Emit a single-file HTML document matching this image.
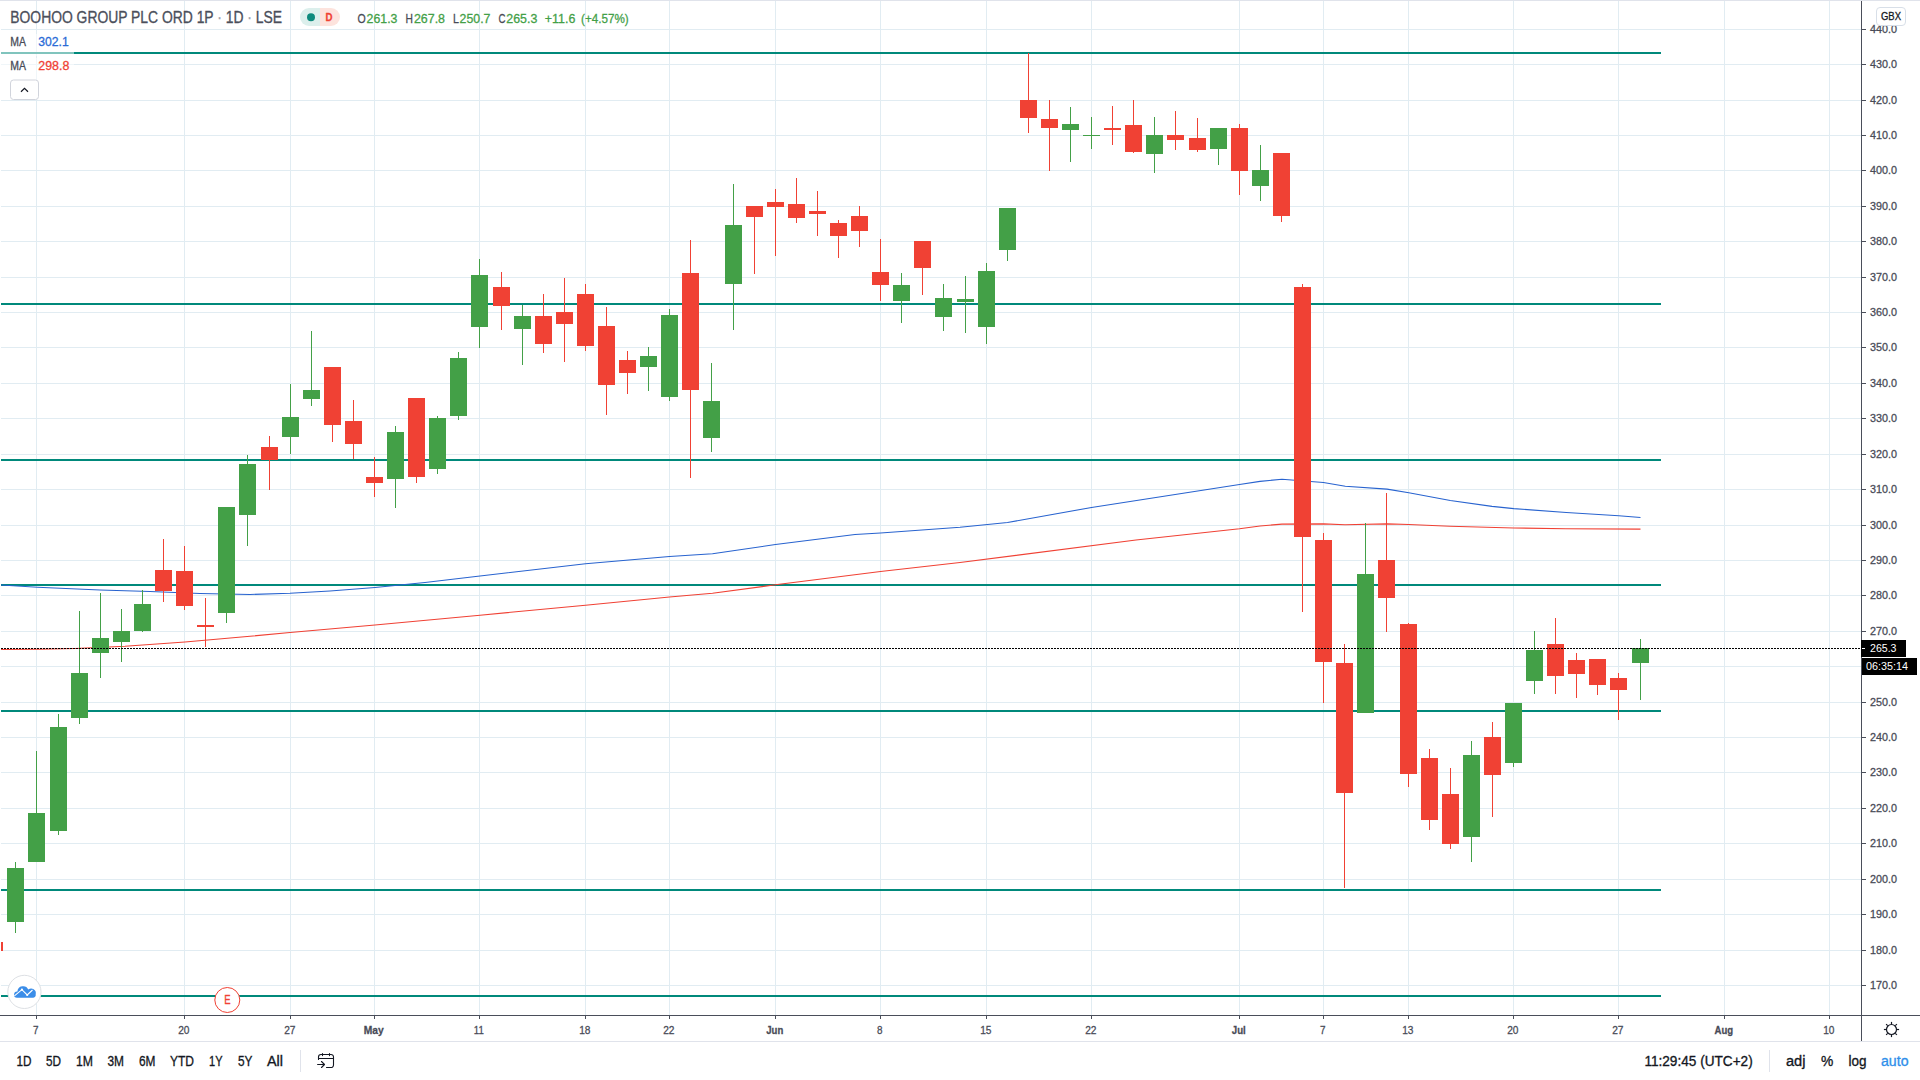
<!DOCTYPE html>
<html lang="en"><head><meta charset="utf-8"><title>BOOHOO GROUP PLC ORD 1P chart</title>
<style>html,body{margin:0;padding:0;background:#fff;width:1920px;height:1080px;overflow:hidden}svg{display:block}</style>
</head><body>
<svg width="1920" height="1080" viewBox="0 0 1920 1080" font-family='"Liberation Sans", sans-serif' shape-rendering="crispEdges">
<style>text,tspan{fill:currentColor;stroke:currentColor;stroke-width:.28px}.b text,text.b{stroke-width:.32px}.w{stroke-width:0}</style>
<rect width="1920" height="1080" fill="#fff"/>
<rect x="0" y="0" width="1920" height="1" fill="#e0e3eb"/>
<g fill="#e1ecf2">
<rect x="1" y="985" width="1860" height="1"/>
<rect x="1" y="950" width="1860" height="1"/>
<rect x="1" y="914" width="1860" height="1"/>
<rect x="1" y="879" width="1860" height="1"/>
<rect x="1" y="843" width="1860" height="1"/>
<rect x="1" y="808" width="1860" height="1"/>
<rect x="1" y="772" width="1860" height="1"/>
<rect x="1" y="737" width="1860" height="1"/>
<rect x="1" y="702" width="1860" height="1"/>
<rect x="1" y="666" width="1860" height="1"/>
<rect x="1" y="631" width="1860" height="1"/>
<rect x="1" y="595" width="1860" height="1"/>
<rect x="1" y="560" width="1860" height="1"/>
<rect x="1" y="525" width="1860" height="1"/>
<rect x="1" y="489" width="1860" height="1"/>
<rect x="1" y="454" width="1860" height="1"/>
<rect x="1" y="418" width="1860" height="1"/>
<rect x="1" y="383" width="1860" height="1"/>
<rect x="1" y="347" width="1860" height="1"/>
<rect x="1" y="312" width="1860" height="1"/>
<rect x="1" y="277" width="1860" height="1"/>
<rect x="1" y="241" width="1860" height="1"/>
<rect x="1" y="206" width="1860" height="1"/>
<rect x="1" y="170" width="1860" height="1"/>
<rect x="1" y="135" width="1860" height="1"/>
<rect x="1" y="100" width="1860" height="1"/>
<rect x="1" y="64" width="1860" height="1"/>
<rect x="1" y="29" width="1860" height="1"/>
<rect x="36" y="1" width="1" height="1014"/>
<rect x="184" y="1" width="1" height="1014"/>
<rect x="290" y="1" width="1" height="1014"/>
<rect x="374" y="1" width="1" height="1014"/>
<rect x="479" y="1" width="1" height="1014"/>
<rect x="585" y="1" width="1" height="1014"/>
<rect x="669" y="1" width="1" height="1014"/>
<rect x="775" y="1" width="1" height="1014"/>
<rect x="880" y="1" width="1" height="1014"/>
<rect x="986" y="1" width="1" height="1014"/>
<rect x="1091" y="1" width="1" height="1014"/>
<rect x="1239" y="1" width="1" height="1014"/>
<rect x="1323" y="1" width="1" height="1014"/>
<rect x="1408" y="1" width="1" height="1014"/>
<rect x="1513" y="1" width="1" height="1014"/>
<rect x="1618" y="1" width="1" height="1014"/>
<rect x="1724" y="1" width="1" height="1014"/>
<rect x="1829" y="1" width="1" height="1014"/>
</g>
<g fill="#00897b">
<rect x="1" y="52" width="1660" height="2"/>
<rect x="1" y="303" width="1660" height="2"/>
<rect x="1" y="459" width="1660" height="2"/>
<rect x="1" y="584" width="1660" height="2"/>
<rect x="1" y="710" width="1660" height="2"/>
<rect x="1" y="889" width="1660" height="2"/>
<rect x="1" y="995" width="1660" height="2"/>
</g>
<polyline points="1,585 37.5,587.3 100,590 150,591.5 200,593.5 250,594.5 290,593.3 330,591 375,587.5 425,582.5 480,576 585.5,563.8 669.5,556.5 712.5,553.8 775.5,544.5 855,534.5 880.5,533 960,527.3 1007.5,522.5 1091.5,507.5 1239.5,484.5 1260,481.4 1282,479.2 1323.4,482.5 1345.3,486.3 1387,489.1 1408.8,492.8 1450.3,500.5 1492,506.4 1513.8,508.6 1566.3,512.5 1618.8,515.8 1640.5,517.5" fill="none" stroke="#2863cf" stroke-width="1.1" shape-rendering="auto" stroke-linejoin="round"/>
<polyline points="1,649.5 40,649.3 75,648.5 125,646.3 185,642 250,636.3 290,632.5 375,625 480,615.2 585.5,605.3 669.5,597 712.5,593.3 775.5,584.8 880.5,571.5 960,562.5 1136,540 1239.5,528.8 1260,526 1282,524.1 1323.4,523.9 1345,524.8 1387,523.9 1408.8,524.5 1450,526.3 1513.8,528 1566,528.7 1640.5,529.1" fill="none" stroke="#f04134" stroke-width="1.1" shape-rendering="auto" stroke-linejoin="round"/>
<rect x="1" y="942" width="2" height="9" fill="#f04134"/>
<rect x="15" y="862" width="1" height="70.5" fill="#43a047"/>
<rect x="7" y="868" width="17" height="54" fill="#43a047"/>
<rect x="36" y="751" width="1" height="111" fill="#43a047"/>
<rect x="28" y="813" width="17" height="49" fill="#43a047"/>
<rect x="58" y="714" width="1" height="121" fill="#43a047"/>
<rect x="50" y="727" width="17" height="104" fill="#43a047"/>
<rect x="79" y="611" width="1" height="113" fill="#43a047"/>
<rect x="71" y="673" width="17" height="45" fill="#43a047"/>
<rect x="100" y="593" width="1" height="85" fill="#43a047"/>
<rect x="92" y="638" width="17" height="15" fill="#43a047"/>
<rect x="121" y="609" width="1" height="53" fill="#43a047"/>
<rect x="113" y="631" width="17" height="11" fill="#43a047"/>
<rect x="142" y="590" width="1" height="42" fill="#43a047"/>
<rect x="134" y="604" width="17" height="27" fill="#43a047"/>
<rect x="163" y="539" width="1" height="63" fill="#f04134"/>
<rect x="155" y="570" width="17" height="21" fill="#f04134"/>
<rect x="184" y="546" width="1" height="64" fill="#f04134"/>
<rect x="176" y="571" width="17" height="35" fill="#f04134"/>
<rect x="205" y="598" width="1" height="49" fill="#f04134"/>
<rect x="197" y="625" width="17" height="2" fill="#f04134"/>
<rect x="226" y="507" width="1" height="116" fill="#43a047"/>
<rect x="218" y="507" width="17" height="106" fill="#43a047"/>
<rect x="247" y="455" width="1" height="91" fill="#43a047"/>
<rect x="239" y="464" width="17" height="51" fill="#43a047"/>
<rect x="269" y="436" width="1" height="54" fill="#f04134"/>
<rect x="261" y="447" width="17" height="13" fill="#f04134"/>
<rect x="290" y="384" width="1" height="70" fill="#43a047"/>
<rect x="282" y="417" width="17" height="20" fill="#43a047"/>
<rect x="311" y="331" width="1" height="75" fill="#43a047"/>
<rect x="303" y="390" width="17" height="9" fill="#43a047"/>
<rect x="332" y="367" width="1" height="75" fill="#f04134"/>
<rect x="324" y="367" width="17" height="58" fill="#f04134"/>
<rect x="353" y="400" width="1" height="59" fill="#f04134"/>
<rect x="345" y="421" width="17" height="23" fill="#f04134"/>
<rect x="374" y="457" width="1" height="40" fill="#f04134"/>
<rect x="366" y="477" width="17" height="6" fill="#f04134"/>
<rect x="395" y="426" width="1" height="82" fill="#43a047"/>
<rect x="387" y="432" width="17" height="47" fill="#43a047"/>
<rect x="416" y="398" width="1" height="85" fill="#f04134"/>
<rect x="408" y="398" width="17" height="79" fill="#f04134"/>
<rect x="437" y="416" width="1" height="58" fill="#43a047"/>
<rect x="429" y="418" width="17" height="51" fill="#43a047"/>
<rect x="458" y="352" width="1" height="68" fill="#43a047"/>
<rect x="450" y="358" width="17" height="58" fill="#43a047"/>
<rect x="479" y="259" width="1" height="89" fill="#43a047"/>
<rect x="471" y="275" width="17" height="52" fill="#43a047"/>
<rect x="501" y="272" width="1" height="58" fill="#f04134"/>
<rect x="493" y="287" width="17" height="19" fill="#f04134"/>
<rect x="522" y="305" width="1" height="60" fill="#43a047"/>
<rect x="514" y="316" width="17" height="13" fill="#43a047"/>
<rect x="543" y="294" width="1" height="59" fill="#f04134"/>
<rect x="535" y="316" width="17" height="28" fill="#f04134"/>
<rect x="564" y="278" width="1" height="84" fill="#f04134"/>
<rect x="556" y="312" width="17" height="12" fill="#f04134"/>
<rect x="585" y="284" width="1" height="67" fill="#f04134"/>
<rect x="577" y="294" width="17" height="52" fill="#f04134"/>
<rect x="606" y="307" width="1" height="108" fill="#f04134"/>
<rect x="598" y="326" width="17" height="59" fill="#f04134"/>
<rect x="627" y="351" width="1" height="43" fill="#f04134"/>
<rect x="619" y="360" width="17" height="13" fill="#f04134"/>
<rect x="648" y="347" width="1" height="44" fill="#43a047"/>
<rect x="640" y="356" width="17" height="11" fill="#43a047"/>
<rect x="669" y="309" width="1" height="92" fill="#43a047"/>
<rect x="661" y="315" width="17" height="82" fill="#43a047"/>
<rect x="690" y="240" width="1" height="238" fill="#f04134"/>
<rect x="682" y="273" width="17" height="117" fill="#f04134"/>
<rect x="711" y="363" width="1" height="89" fill="#43a047"/>
<rect x="703" y="401" width="17" height="37" fill="#43a047"/>
<rect x="733" y="184" width="1" height="146" fill="#43a047"/>
<rect x="725" y="225" width="17" height="59" fill="#43a047"/>
<rect x="754" y="206" width="1" height="68" fill="#f04134"/>
<rect x="746" y="206" width="17" height="11" fill="#f04134"/>
<rect x="775" y="189" width="1" height="67" fill="#f04134"/>
<rect x="767" y="202" width="17" height="5" fill="#f04134"/>
<rect x="796" y="178" width="1" height="45" fill="#f04134"/>
<rect x="788" y="204" width="17" height="14" fill="#f04134"/>
<rect x="817" y="191" width="1" height="45" fill="#f04134"/>
<rect x="809" y="211" width="17" height="3" fill="#f04134"/>
<rect x="838" y="220" width="1" height="38" fill="#f04134"/>
<rect x="830" y="223" width="17" height="13" fill="#f04134"/>
<rect x="859" y="206" width="1" height="41" fill="#f04134"/>
<rect x="851" y="216" width="17" height="15" fill="#f04134"/>
<rect x="880" y="239" width="1" height="62" fill="#f04134"/>
<rect x="872" y="272" width="17" height="13" fill="#f04134"/>
<rect x="901" y="273" width="1" height="50" fill="#43a047"/>
<rect x="893" y="285" width="17" height="16" fill="#43a047"/>
<rect x="922" y="241" width="1" height="54" fill="#f04134"/>
<rect x="914" y="241" width="17" height="27" fill="#f04134"/>
<rect x="943" y="284" width="1" height="47" fill="#43a047"/>
<rect x="935" y="298" width="17" height="19" fill="#43a047"/>
<rect x="965" y="276" width="1" height="56.5" fill="#43a047"/>
<rect x="957" y="299" width="17" height="3" fill="#43a047"/>
<rect x="986" y="263" width="1" height="81" fill="#43a047"/>
<rect x="978" y="271" width="17" height="56" fill="#43a047"/>
<rect x="1007" y="208" width="1" height="53" fill="#43a047"/>
<rect x="999" y="208" width="17" height="42" fill="#43a047"/>
<rect x="1028" y="53" width="1" height="80" fill="#f04134"/>
<rect x="1020" y="100" width="17" height="18" fill="#f04134"/>
<rect x="1049" y="100" width="1" height="71" fill="#f04134"/>
<rect x="1041" y="119" width="17" height="9" fill="#f04134"/>
<rect x="1070" y="107" width="1" height="55" fill="#43a047"/>
<rect x="1062" y="124" width="17" height="6" fill="#43a047"/>
<rect x="1091" y="117" width="1" height="32" fill="#43a047"/>
<rect x="1083" y="135" width="17" height="1" fill="#43a047"/>
<rect x="1112" y="106" width="1" height="39" fill="#f04134"/>
<rect x="1104" y="128" width="17" height="2" fill="#f04134"/>
<rect x="1133" y="100" width="1" height="53" fill="#f04134"/>
<rect x="1125" y="125" width="17" height="27" fill="#f04134"/>
<rect x="1154" y="117" width="1" height="56" fill="#43a047"/>
<rect x="1146" y="135" width="17" height="19" fill="#43a047"/>
<rect x="1175" y="111" width="1" height="39" fill="#f04134"/>
<rect x="1167" y="135" width="17" height="5" fill="#f04134"/>
<rect x="1197" y="118" width="1" height="34" fill="#f04134"/>
<rect x="1189" y="138" width="17" height="12" fill="#f04134"/>
<rect x="1218" y="128" width="1" height="37" fill="#43a047"/>
<rect x="1210" y="128" width="17" height="21" fill="#43a047"/>
<rect x="1239" y="124" width="1" height="71" fill="#f04134"/>
<rect x="1231" y="128" width="17" height="43" fill="#f04134"/>
<rect x="1260" y="145" width="1" height="56" fill="#43a047"/>
<rect x="1252" y="170" width="17" height="16" fill="#43a047"/>
<rect x="1281" y="153" width="1" height="69" fill="#f04134"/>
<rect x="1273" y="153" width="17" height="63" fill="#f04134"/>
<rect x="1302" y="284" width="1" height="328" fill="#f04134"/>
<rect x="1294" y="287" width="17" height="250" fill="#f04134"/>
<rect x="1323" y="533" width="1" height="170" fill="#f04134"/>
<rect x="1315" y="540" width="17" height="122" fill="#f04134"/>
<rect x="1344" y="644" width="1" height="244" fill="#f04134"/>
<rect x="1336" y="663" width="17" height="130" fill="#f04134"/>
<rect x="1365" y="523" width="1" height="190" fill="#43a047"/>
<rect x="1357" y="574" width="17" height="139" fill="#43a047"/>
<rect x="1386" y="493" width="1" height="139" fill="#f04134"/>
<rect x="1378" y="560" width="17" height="38" fill="#f04134"/>
<rect x="1408" y="623" width="1" height="164" fill="#f04134"/>
<rect x="1400" y="624" width="17" height="150" fill="#f04134"/>
<rect x="1429" y="749" width="1" height="81" fill="#f04134"/>
<rect x="1421" y="758" width="17" height="62" fill="#f04134"/>
<rect x="1450" y="768" width="1" height="81" fill="#f04134"/>
<rect x="1442" y="794" width="17" height="50" fill="#f04134"/>
<rect x="1471" y="741" width="1" height="121" fill="#43a047"/>
<rect x="1463" y="755" width="17" height="82" fill="#43a047"/>
<rect x="1492" y="722" width="1" height="95" fill="#f04134"/>
<rect x="1484" y="737" width="17" height="38" fill="#f04134"/>
<rect x="1513" y="703" width="1" height="64" fill="#43a047"/>
<rect x="1505" y="703" width="17" height="60" fill="#43a047"/>
<rect x="1534" y="631" width="1" height="63" fill="#43a047"/>
<rect x="1526" y="650" width="17" height="31" fill="#43a047"/>
<rect x="1555" y="618" width="1" height="76" fill="#f04134"/>
<rect x="1547" y="644" width="17" height="32" fill="#f04134"/>
<rect x="1576" y="653" width="1" height="45" fill="#f04134"/>
<rect x="1568" y="660" width="17" height="14" fill="#f04134"/>
<rect x="1597" y="659" width="1" height="36" fill="#f04134"/>
<rect x="1589" y="659" width="17" height="26" fill="#f04134"/>
<rect x="1618" y="673" width="1" height="47" fill="#f04134"/>
<rect x="1610" y="678" width="17" height="12" fill="#f04134"/>
<rect x="1640" y="639" width="1" height="61" fill="#43a047"/>
<rect x="1632" y="648" width="17" height="15" fill="#43a047"/>
<line x1="1" y1="648.5" x2="1861" y2="648.5" stroke="#000" stroke-width="1" stroke-dasharray="2 1"/>
<rect x="1861" y="1" width="1" height="1041" fill="#4a4e5a"/>
<rect x="0" y="1015" width="1920" height="1" fill="#4a4e5a"/>
<rect x="0" y="1041" width="1920" height="1" fill="#e0e3eb"/>
<g fill="#4a4e5a">
<rect x="1862" y="985" width="4" height="1"/>
<rect x="1862" y="950" width="4" height="1"/>
<rect x="1862" y="914" width="4" height="1"/>
<rect x="1862" y="879" width="4" height="1"/>
<rect x="1862" y="843" width="4" height="1"/>
<rect x="1862" y="808" width="4" height="1"/>
<rect x="1862" y="772" width="4" height="1"/>
<rect x="1862" y="737" width="4" height="1"/>
<rect x="1862" y="702" width="4" height="1"/>
<rect x="1862" y="666" width="4" height="1"/>
<rect x="1862" y="631" width="4" height="1"/>
<rect x="1862" y="595" width="4" height="1"/>
<rect x="1862" y="560" width="4" height="1"/>
<rect x="1862" y="525" width="4" height="1"/>
<rect x="1862" y="489" width="4" height="1"/>
<rect x="1862" y="454" width="4" height="1"/>
<rect x="1862" y="418" width="4" height="1"/>
<rect x="1862" y="383" width="4" height="1"/>
<rect x="1862" y="347" width="4" height="1"/>
<rect x="1862" y="312" width="4" height="1"/>
<rect x="1862" y="277" width="4" height="1"/>
<rect x="1862" y="241" width="4" height="1"/>
<rect x="1862" y="206" width="4" height="1"/>
<rect x="1862" y="170" width="4" height="1"/>
<rect x="1862" y="135" width="4" height="1"/>
<rect x="1862" y="100" width="4" height="1"/>
<rect x="1862" y="64" width="4" height="1"/>
<rect x="1862" y="29" width="4" height="1"/>
</g>
<g color="#484b57" font-size="11" shape-rendering="auto">
<text x="1870" y="989" textLength="27" lengthAdjust="spacingAndGlyphs">170.0</text>
<text x="1870" y="954" textLength="27" lengthAdjust="spacingAndGlyphs">180.0</text>
<text x="1870" y="918" textLength="27" lengthAdjust="spacingAndGlyphs">190.0</text>
<text x="1870" y="883" textLength="27" lengthAdjust="spacingAndGlyphs">200.0</text>
<text x="1870" y="847" textLength="27" lengthAdjust="spacingAndGlyphs">210.0</text>
<text x="1870" y="812" textLength="27" lengthAdjust="spacingAndGlyphs">220.0</text>
<text x="1870" y="776" textLength="27" lengthAdjust="spacingAndGlyphs">230.0</text>
<text x="1870" y="741" textLength="27" lengthAdjust="spacingAndGlyphs">240.0</text>
<text x="1870" y="706" textLength="27" lengthAdjust="spacingAndGlyphs">250.0</text>
<text x="1870" y="670" textLength="27" lengthAdjust="spacingAndGlyphs">260.0</text>
<text x="1870" y="635" textLength="27" lengthAdjust="spacingAndGlyphs">270.0</text>
<text x="1870" y="599" textLength="27" lengthAdjust="spacingAndGlyphs">280.0</text>
<text x="1870" y="564" textLength="27" lengthAdjust="spacingAndGlyphs">290.0</text>
<text x="1870" y="529" textLength="27" lengthAdjust="spacingAndGlyphs">300.0</text>
<text x="1870" y="493" textLength="27" lengthAdjust="spacingAndGlyphs">310.0</text>
<text x="1870" y="458" textLength="27" lengthAdjust="spacingAndGlyphs">320.0</text>
<text x="1870" y="422" textLength="27" lengthAdjust="spacingAndGlyphs">330.0</text>
<text x="1870" y="387" textLength="27" lengthAdjust="spacingAndGlyphs">340.0</text>
<text x="1870" y="351" textLength="27" lengthAdjust="spacingAndGlyphs">350.0</text>
<text x="1870" y="316" textLength="27" lengthAdjust="spacingAndGlyphs">360.0</text>
<text x="1870" y="281" textLength="27" lengthAdjust="spacingAndGlyphs">370.0</text>
<text x="1870" y="245" textLength="27" lengthAdjust="spacingAndGlyphs">380.0</text>
<text x="1870" y="210" textLength="27" lengthAdjust="spacingAndGlyphs">390.0</text>
<text x="1870" y="174" textLength="27" lengthAdjust="spacingAndGlyphs">400.0</text>
<text x="1870" y="139" textLength="27" lengthAdjust="spacingAndGlyphs">410.0</text>
<text x="1870" y="104" textLength="27" lengthAdjust="spacingAndGlyphs">420.0</text>
<text x="1870" y="68" textLength="27" lengthAdjust="spacingAndGlyphs">430.0</text>
<text x="1870" y="33" textLength="27" lengthAdjust="spacingAndGlyphs">440.0</text>
</g>
<rect x="1876.5" y="7.5" width="29" height="18" rx="3.5" fill="#fff" stroke="#d8dfe8" shape-rendering="auto"/>
<text x="1881" y="20" font-size="11" color="#131722" textLength="20" lengthAdjust="spacingAndGlyphs" shape-rendering="auto">GBX</text>
<rect x="1861" y="640" width="45" height="17" fill="#000"/>
<rect x="1862" y="648" width="3" height="1" fill="#fff"/>
<text x="1870" y="652" font-size="11" class="w" color="#fff" textLength="26.5" lengthAdjust="spacingAndGlyphs">265.3</text>
<rect x="1862" y="658" width="55" height="17" fill="#000"/>
<text x="1866" y="670" font-size="11" class="w" color="#fff" textLength="42" lengthAdjust="spacingAndGlyphs">06:35:14</text>
<g fill="#4a4e5a">
<rect x="36" y="1016" width="1" height="3"/>
<rect x="184" y="1016" width="1" height="3"/>
<rect x="290" y="1016" width="1" height="3"/>
<rect x="374" y="1016" width="1" height="3"/>
<rect x="479" y="1016" width="1" height="3"/>
<rect x="585" y="1016" width="1" height="3"/>
<rect x="669" y="1016" width="1" height="3"/>
<rect x="775" y="1016" width="1" height="3"/>
<rect x="880" y="1016" width="1" height="3"/>
<rect x="986" y="1016" width="1" height="3"/>
<rect x="1091" y="1016" width="1" height="3"/>
<rect x="1239" y="1016" width="1" height="3"/>
<rect x="1323" y="1016" width="1" height="3"/>
<rect x="1408" y="1016" width="1" height="3"/>
<rect x="1513" y="1016" width="1" height="3"/>
<rect x="1618" y="1016" width="1" height="3"/>
<rect x="1724" y="1016" width="1" height="3"/>
<rect x="1829" y="1016" width="1" height="3"/>
</g>
<g color="#484b57" font-size="11" shape-rendering="auto">
<text x="33.05" y="1034" textLength="5.5" lengthAdjust="spacingAndGlyphs">7</text>
<text x="178.15" y="1034" textLength="11.3" lengthAdjust="spacingAndGlyphs">20</text>
<text x="284.15" y="1034" textLength="11.3" lengthAdjust="spacingAndGlyphs">27</text>
<text x="363.8" y="1034" textLength="20" lengthAdjust="spacingAndGlyphs" font-weight="bold">May</text>
<text x="473.8" y="1034" textLength="10" lengthAdjust="spacingAndGlyphs">11</text>
<text x="579.15" y="1034" textLength="11.3" lengthAdjust="spacingAndGlyphs">18</text>
<text x="663.15" y="1034" textLength="11.3" lengthAdjust="spacingAndGlyphs">22</text>
<text x="766.3" y="1034" textLength="17" lengthAdjust="spacingAndGlyphs" font-weight="bold">Jun</text>
<text x="877.05" y="1034" textLength="5.5" lengthAdjust="spacingAndGlyphs">8</text>
<text x="980.15" y="1034" textLength="11.3" lengthAdjust="spacingAndGlyphs">15</text>
<text x="1085.15" y="1034" textLength="11.3" lengthAdjust="spacingAndGlyphs">22</text>
<text x="1231.8" y="1034" textLength="14" lengthAdjust="spacingAndGlyphs" font-weight="bold">Jul</text>
<text x="1320.05" y="1034" textLength="5.5" lengthAdjust="spacingAndGlyphs">7</text>
<text x="1402.15" y="1034" textLength="11.3" lengthAdjust="spacingAndGlyphs">13</text>
<text x="1507.15" y="1034" textLength="11.3" lengthAdjust="spacingAndGlyphs">20</text>
<text x="1612.15" y="1034" textLength="11.3" lengthAdjust="spacingAndGlyphs">27</text>
<text x="1714.5" y="1034" textLength="18.6" lengthAdjust="spacingAndGlyphs" font-weight="bold">Aug</text>
<text x="1823.15" y="1034" textLength="11.3" lengthAdjust="spacingAndGlyphs">10</text>
</g>
<g shape-rendering="auto" stroke="#131722" fill="none" stroke-width="1.2"><circle cx="1891.5" cy="1029.5" r="5"/>
<line x1="1896.90" y1="1029.50" x2="1899.10" y2="1029.50"/>
<line x1="1895.32" y1="1033.32" x2="1896.87" y2="1034.87"/>
<line x1="1891.50" y1="1034.90" x2="1891.50" y2="1037.10"/>
<line x1="1887.68" y1="1033.32" x2="1886.13" y2="1034.87"/>
<line x1="1886.10" y1="1029.50" x2="1883.90" y2="1029.50"/>
<line x1="1887.68" y1="1025.68" x2="1886.13" y2="1024.13"/>
<line x1="1891.50" y1="1024.10" x2="1891.50" y2="1021.90"/>
<line x1="1895.32" y1="1025.68" x2="1896.87" y2="1024.13"/>
</g>
<rect x="1" y="34" width="73" height="22" fill="#fff" opacity="0.5"/>
<rect x="1" y="58" width="73" height="22" fill="#fff" opacity="0.5"/>
<text class="b" x="10.3" y="23" font-size="16" color="#4b4f5b" textLength="271.7" lengthAdjust="spacingAndGlyphs" shape-rendering="auto">BOOHOO GROUP PLC ORD 1P <tspan color="#9a9ea8">·</tspan> 1D <tspan color="#9a9ea8">·</tspan> LSE</text>
<g shape-rendering="auto">
<path d="M309 8 H320 V26 H309 A9 9 0 0 1 309 8Z" fill="#dcefec"/>
<path d="M320 8 H331 A9 9 0 0 1 331 26 H320Z" fill="#fde3dd"/>
<circle cx="311" cy="17.2" r="4" fill="#0e8a7d"/>
<text x="325.5" y="21" font-size="11" font-weight="bold" color="#f04134" textLength="7" lengthAdjust="spacingAndGlyphs">D</text>
</g>
<g font-size="12.5" shape-rendering="auto">
<text x="357.4" y="23" color="#484b57" textLength="8.2" lengthAdjust="spacingAndGlyphs">O</text>
<text x="366.6" y="23" color="#43a047" textLength="30.8" lengthAdjust="spacingAndGlyphs">261.3</text>
<text x="405.6" y="23" color="#484b57" textLength="7.4" lengthAdjust="spacingAndGlyphs">H</text>
<text x="413.9" y="23" color="#43a047" textLength="31.1" lengthAdjust="spacingAndGlyphs">267.8</text>
<text x="452.9" y="23" color="#484b57" textLength="5.9" lengthAdjust="spacingAndGlyphs">L</text>
<text x="459.6" y="23" color="#43a047" textLength="30.8" lengthAdjust="spacingAndGlyphs">250.7</text>
<text x="498.4" y="23" color="#484b57" textLength="7" lengthAdjust="spacingAndGlyphs">C</text>
<text x="506.3" y="23" color="#43a047" textLength="31" lengthAdjust="spacingAndGlyphs">265.3</text>
<text x="544.8" y="23" color="#43a047" textLength="30.5" lengthAdjust="spacingAndGlyphs">+11.6</text>
<text x="581" y="23" color="#43a047" textLength="47.7" lengthAdjust="spacingAndGlyphs">(+4.57%)</text>
</g>
<g font-size="12" shape-rendering="auto">
<text x="10.3" y="46" color="#484b57" textLength="15.7" lengthAdjust="spacingAndGlyphs">MA</text>
<text x="38.3" y="46" color="#2a6bd6" textLength="30.4" lengthAdjust="spacingAndGlyphs">302.1</text>
<text x="10.3" y="70" color="#484b57" textLength="15.7" lengthAdjust="spacingAndGlyphs">MA</text>
<text x="38.3" y="70" color="#f04134" textLength="31" lengthAdjust="spacingAndGlyphs">298.8</text>
</g>
<g shape-rendering="auto"><rect x="10.5" y="80" width="28" height="19.5" rx="3" fill="#fff" stroke="#d1d4dc"/>
<path d="M21 91.7 L24.5 88.3 L28 91.7" fill="none" stroke="#131722" stroke-width="1.2"/></g>
<g shape-rendering="auto"><circle cx="24.4" cy="991.9" r="16.6" fill="#fff" stroke="#dde0e4" stroke-width="1"/>
<g transform="translate(0,965)"><path d="M17 32.8 a3.1 3.1 0 0 1 0.4 -6.3 a5.7 5.7 0 0 1 10.9 -1.9 a4.6 4.6 0 0 1 7.4 4.6 a3.2 3.2 0 0 1 -2.4 3.6 Z" fill="#3b8de8"/>
<polyline points="14.4,30.9 21.9,24.7 27.2,30 32.5,25" fill="none" stroke="#fff" stroke-width="1.1"/><circle cx="21.9" cy="24.7" r="1.1" fill="#fff"/><circle cx="27.2" cy="30" r="1.1" fill="#fff"/></g></g>
<g shape-rendering="auto"><circle cx="227.3" cy="1000" r="12.5" fill="#fff" stroke="#f04134" stroke-width="1"/>
<text x="224.2" y="1004.3" font-size="12.5" class="b" color="#f04134" textLength="6.3" lengthAdjust="spacingAndGlyphs">E</text></g>
<g class="b" font-size="14" color="#131722" shape-rendering="auto">
<text x="16.5" y="1066" textLength="15" lengthAdjust="spacingAndGlyphs">1D</text>
<text x="46" y="1066" textLength="15" lengthAdjust="spacingAndGlyphs">5D</text>
<text x="76" y="1066" textLength="17" lengthAdjust="spacingAndGlyphs">1M</text>
<text x="107.5" y="1066" textLength="16.5" lengthAdjust="spacingAndGlyphs">3M</text>
<text x="139" y="1066" textLength="16.5" lengthAdjust="spacingAndGlyphs">6M</text>
<text x="170" y="1066" textLength="24" lengthAdjust="spacingAndGlyphs">YTD</text>
<text x="209" y="1066" textLength="13.5" lengthAdjust="spacingAndGlyphs">1Y</text>
<text x="238" y="1066" textLength="14.5" lengthAdjust="spacingAndGlyphs">5Y</text>
<text x="267" y="1066" textLength="16" lengthAdjust="spacingAndGlyphs">All</text>
<text x="1644.4" y="1066" textLength="108.3" lengthAdjust="spacingAndGlyphs">11:29:45 (UTC+2)</text>
<text x="1786" y="1066" textLength="19.5" lengthAdjust="spacingAndGlyphs">adj</text>
<text x="1821" y="1066" textLength="12.3" lengthAdjust="spacingAndGlyphs">%</text>
<text x="1848.5" y="1066" textLength="18" lengthAdjust="spacingAndGlyphs">log</text>
<text x="1881" y="1066" color="#2f8fea" textLength="27.5" lengthAdjust="spacingAndGlyphs">auto</text>
</g>
<rect x="300" y="1050" width="1" height="22" fill="#e0e3eb"/>
<rect x="1769" y="1050" width="1" height="22" fill="#e0e3eb"/>
<path shape-rendering="auto" fill="none" stroke="#131722" stroke-width="1.1" stroke-linecap="round" stroke-linejoin="round" d="M318.5 1059.5V1057a2.5 2.5 0 0 1 2.5-2.5H331a2.5 2.5 0 0 1 2.5 2.5V1065a2.5 2.5 0 0 1-2.5 2.5H326.5M318.5 1058.5H333.5M322.5 1053.5V1055.6M329.5 1053.5V1055.6M317.6 1064.5H324.5M321.5 1061.5L324.5 1064.5L321.5 1067.5"/>
</svg>
</body></html>
